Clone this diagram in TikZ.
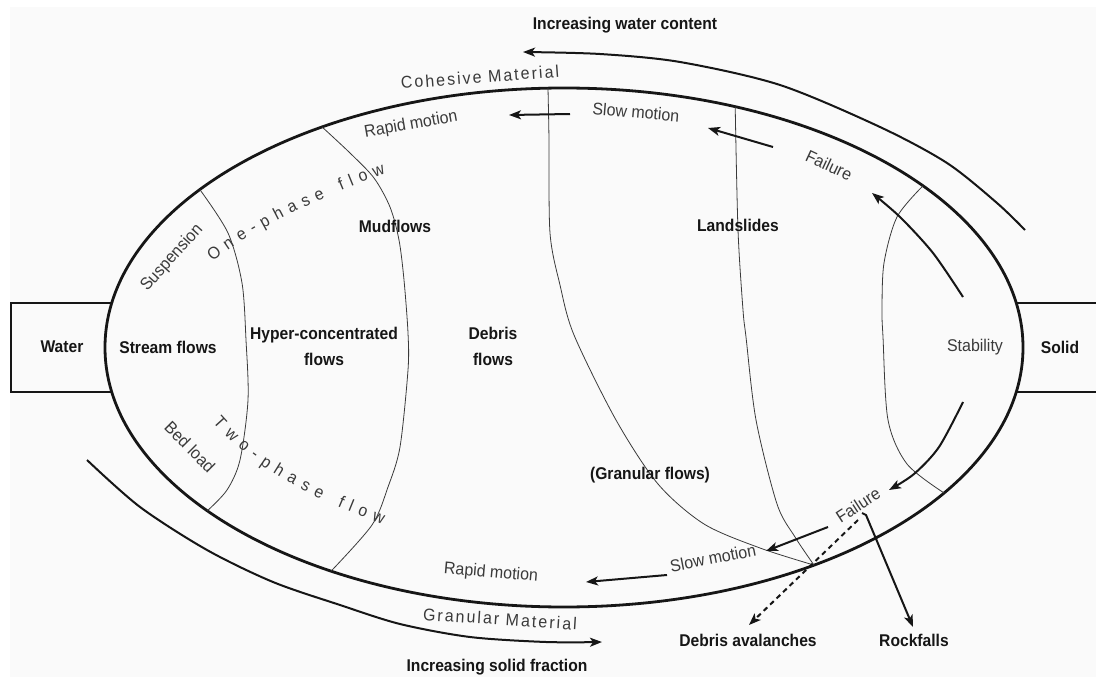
\documentclass[tikz,border=0pt]{standalone}
\usepackage{fontspec}
\setmainfont{Liberation Sans}
\usetikzlibrary{arrows.meta,decorations.text}
\definecolor{bg}{HTML}{FAFAFA}
\definecolor{ink}{HTML}{161616}
\definecolor{soft}{HTML}{3A3A3A}
\newfontfamily\boldlab[FakeStretch=0.92]{Liberation Sans Bold}
\newfontfamily\lightlab[FakeStretch=0.94]{Liberation Sans}
\newfontfamily\spacedlab[FakeStretch=0.94,LetterSpace=12]{Liberation Sans}
\tikzset{
  lbl/.style={font=\boldlab\fontsize{17}{26}\selectfont, text=ink, align=center, inner sep=0pt},
  sub/.style={font=\lightlab\fontsize{17}{20}\selectfont, text=soft, inner sep=0pt},
  spaced/.style={font=\spacedlab\fontsize{17}{20}\selectfont, text=soft, inner sep=0pt},
  bound/.style={line width=0.8pt, draw=soft},
  boxline/.style={line width=2pt, draw=ink},
  rim/.style={line width=2.8pt, draw=ink},
  arr/.style={line width=2pt, draw=ink, -{Stealth[length=12pt,width=9pt,inset=3pt]}},
  darr/.style={arr, dash pattern=on 5pt off 4pt},
  curved/.style={decorate, decoration={text along path, text align={fit to path}, raise=-4.5pt, text color=soft}}
}
\begin{document}
\begin{tikzpicture}[x=1pt,y=-1pt]
\useasboundingbox (0,0) rectangle (1096,677);
\fill[white] (0,0) rectangle (1096,677);
\fill[bg] (10,7) rectangle (1096,677);

% main ellipse
\coordinate (C) at (564,347.5);
\draw[rim] (C) ellipse [x radius=459, y radius=259.5];

% side boxes
\coordinate (wt) at (111.8,303);
\coordinate (wb) at (111.8,392);
\coordinate (wtl) at (10.5,303);
\coordinate (wbl) at (10.5,392);
\coordinate (st) at (1016.2,303);
\coordinate (sb) at (1016.2,392);
\coordinate (str) at (1096,303);
\coordinate (sbr) at (1096,392);
\draw[boxline] (wt) -- (wtl) -- (wbl) -- (wb);
\draw[boxline] (st) -- (str);
\draw[boxline] (sb) -- (sbr);

% boundary points on the ellipse
\coordinate (b1t) at (199.8,189.5);
\coordinate (b1b) at (207.3,510.8);
\coordinate (b2t) at (322.1,127.0);
\coordinate (b2b) at (331.1,571.1);
\coordinate (b3t) at (548.0,88.2);
\coordinate (b4t) at (735.2,106.7);
\coordinate (bj) at (814.0,565.1);
\coordinate (b5t) at (923.0,185.8);
\coordinate (b5b) at (944.1,493.0);

\draw[bound] plot[smooth] coordinates {(b1t) (228,233) (242,283) (246,340) (248,400) (240,460) (227,490) (b1b)};
\draw[bound] plot[smooth] coordinates {(b2t) (350,153) (374,178) (390,207) (399,240) (404,280) (408,333) (408,370) (400,447) (388,487) (372,525) (b2b)};
\draw[bound] plot[smooth] coordinates {(b3t) (549,140) (550,233) (560,285) (574,335) (616,420) (658,484) (704,524) (760,548) (bj)};
\draw[bound] plot[smooth] coordinates {(b4t) (738,230) (743,310) (746,337) (756,420) (777,504) (795,537) (bj)};
\draw[bound] plot[smooth] coordinates {(b5t) (897,217) (884,263) (882,310) (883,337) (888,420) (907,464) (b5b)};

% outer arrows
\coordinate (woS) at (1025,230);
\coordinate (woE) at (523,52);
\draw[arr] plot[smooth] coordinates {(woS) (997,203) (947,163) (880,127) (780,85) (680,62) (600,54) (woE)};
\coordinate (soS) at (87,460);
\coordinate (soE) at (602,642);
\draw[arr] plot[smooth] coordinates {(soS) (140,507) (207,550) (273,582) (340,605) (400,624) (470,637) (546,642) (soE)};

% inner arrows (top)
\coordinate (tfS) at (963,297);
\coordinate (tfE) at (872,193);
\draw[arr] plot[smooth] coordinates {(tfS) (933,253) (900,217) (tfE)};
\coordinate (tsS) at (773,147);
\coordinate (tsE) at (708,128);
\draw[arr] (tsS) -- (tsE);
\coordinate (trS) at (570,114);
\coordinate (trE) at (509,115);
\draw[arr] (trS) -- (trE);

% inner arrows (bottom)
\coordinate (bfS) at (963,402);
\coordinate (bfE) at (889,490);
\draw[arr] plot[smooth] coordinates {(bfS) (939,447) (914,474) (bfE)};
\coordinate (bsS) at (828,527);
\coordinate (bsE) at (766,551);
\draw[arr] (bsS) -- (bsE);
\coordinate (brS) at (667,575);
\coordinate (brE) at (586,582);
\draw[arr] (brS) -- (brE);
\coordinate (fd) at (858,520);
\coordinate (avE) at (749,625);
\draw[darr] (fd) -- (avE);
\coordinate (fr0) at (862,513);
\coordinate (fr) at (866,515);
\coordinate (rkE) at (913,627);
\draw[arr] (fr0) -- (fr) -- (rkE);

% bold labels
\node[lbl] (water) at (62,347) {Water};
\node[lbl] (solid) at (1060,347) {Solid};
\node[lbl] (stream) at (168,347) {Stream flows};
\node[lbl] (hyper) at (324,346) {Hyper-concentrated\\flows};
\node[lbl] (debris) at (493,346) {Debris\\flows};
\node[lbl] (mud) at (395,226) {Mudflows};
\node[lbl] (land) at (738,225) {Landslides};
\node[lbl] (gran) at (650,475) {(Granular flows)};
\node[lbl] (aval) at (748,640) {Debris avalanches};
\node[lbl] (rock) at (914,640) {Rockfalls};
\node[lbl] (incw) at (625,25) {Increasing water content};
\node[lbl] (incs) at (497,667) {Increasing solid fraction};

% light labels
\node[sub] (stab) at (975,347) {Stability};
\node[sub, rotate=48] (susp) at (172,258) {Suspension};
\node[sub, rotate=-45] (bed) at (190,447) {Bed load};
\node[sub, rotate=10] (rapidT) at (411,125) {Rapid motion};
\node[sub, rotate=-5] (slowT) at (636,112) {Slow motion};
\node[sub, rotate=-25] (failT) at (829,165) {Failure};
\node[sub, rotate=-5] (rapidB) at (491,573) {Rapid motion};
\node[sub, rotate=11] (slowB) at (713,558) {Slow motion};
\node[sub, rotate=33] (failB) at (858,505) {Failure};
\node[spaced, rotate=4.3] (coh) at (480,77) {Cohesive Material};
\node[spaced, rotate=-3.7] (granm) at (500,619) {Granular Material};

% curved labels
\coordinate (opS) at (210,258);
\coordinate (opE) at (384,169);
\path[curved, decoration={text={|\lightlab\fontsize{17}{20}\selectfont|One-phase flow}}]
  (opS) .. controls (242,232) and (300,200) .. (opE);
\coordinate (tpS) at (216,419);
\coordinate (tpE) at (384,520);
\path[curved, decoration={text={|\lightlab\fontsize{17}{20}\selectfont|Two-phase flow}}]
  (tpS) .. controls (250,458) and (300,490) .. (tpE);
\end{tikzpicture}
\end{document}
